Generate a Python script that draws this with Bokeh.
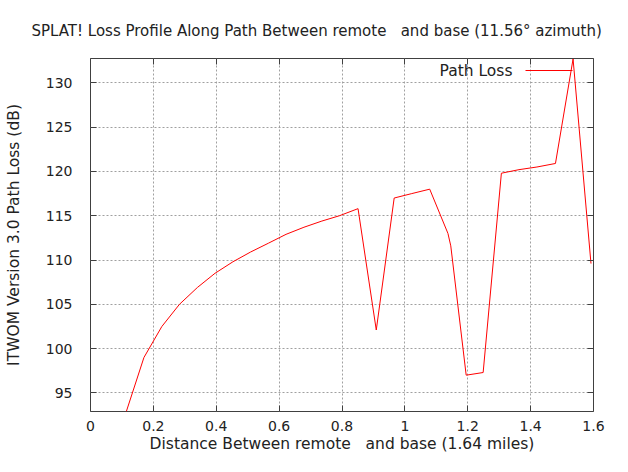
from bokeh.plotting import figure
from bokeh.models import Range1d, FixedTicker, LinearAxis, Label, Arrow
from bokeh.embed import file_html
from bokeh.resources import INLINE

# ---- data ----
distance_miles = [0.114, 0.170, 0.227, 0.283, 0.340, 0.396, 0.453, 0.509, 0.566,
                  0.622, 0.679, 0.736, 0.792, 0.851, 0.909, 0.966, 1.022, 1.079,
                  1.137, 1.146, 1.195, 1.249, 1.307, 1.363, 1.420, 1.479, 1.535, 1.592]
path_loss_db = [92.9, 99.0, 102.5, 105.0, 106.9, 108.5, 109.8, 110.9, 111.9,
                112.9, 113.7, 114.4, 115.0, 115.8, 102.1, 117.0, 117.5, 118.0,
                113.0, 111.6, 97.0, 97.3, 119.8, 120.2, 120.5, 120.9, 132.7, 109.6]

x_ticks = [0, 0.2, 0.4, 0.6, 0.8, 1.0, 1.2, 1.4, 1.6]
x_tick_labels = ["0", "0.2", "0.4", "0.6", "0.8", "1", "1.2", "1.4", "1.6"]
y_ticks = [95, 100, 105, 110, 115, 120, 125, 130]
y_tick_labels = ["95", "100", "105", "110", "115", "120", "125", "130"]

SP3 = "\u00a0\u00a0\u00a0"
title_text = "SPLAT! Loss Profile Along Path Between remote" + SP3 + "and base (11.56\u00b0 azimuth)"
x_label = "Distance Between remote" + SP3 + "and base (1.64 miles)"
y_label = "ITWOM Version 3.0 Path Loss (dB)"
series_name = "Path Loss"

FONT = "DejaVu Sans"
FS = "14px"      # tick labels
FS_T = "15.5px"  # longer texts (gnuplot spaces its letters wider)
TXT = "#222222"
FRAME_LINE = "#404040"

p = figure(width=612, height=456, output_backend="svg", toolbar_location=None,
           x_range=Range1d(0, 1.6), y_range=Range1d(92.9, 132.75),
           min_border_left=90, min_border_right=19, min_border_top=58, min_border_bottom=45)

p.title.text = title_text
p.title.text_font = FONT
p.title.text_font_size = "15px"
p.title.text_font_style = "normal"
p.title.text_color = TXT
p.title.align = "left"
p.title.offset = -59
p.title.standoff = 38

p.outline_line_color = FRAME_LINE
p.outline_line_width = 1
p.background_fill_color = "white"
p.border_fill_color = "white"

xt = FixedTicker(ticks=x_ticks)
yt = FixedTicker(ticks=y_ticks)

for ax in (p.xaxis[0], p.yaxis[0]):
    ax.axis_line_color = None
    ax.major_tick_in = 6
    ax.major_tick_out = 0
    ax.major_tick_line_color = FRAME_LINE
    ax.minor_tick_line_color = None
    ax.major_label_text_font = FONT
    ax.major_label_text_font_size = FS
    ax.major_label_text_color = TXT
    ax.axis_label_text_font = FONT
    ax.axis_label_text_font_size = FS_T
    ax.axis_label_text_font_style = "normal"
    ax.axis_label_text_color = TXT

p.xaxis[0].ticker = xt
p.yaxis[0].ticker = yt
p.xaxis[0].major_label_overrides = dict(zip(x_ticks, x_tick_labels))
p.yaxis[0].major_label_overrides = dict(zip(y_ticks, y_tick_labels))
p.xaxis[0].axis_label = x_label
p.yaxis[0].axis_label = y_label
p.xaxis[0].major_label_standoff = 9
p.yaxis[0].major_label_standoff = 18
p.xaxis[0].axis_label_standoff = 1
p.yaxis[0].axis_label_standoff = 20

# mirrored ticks on top and right (gnuplot style)
for side, tk in (("above", xt), ("right", yt)):
    ax = LinearAxis(ticker=tk)
    ax.axis_line_color = None
    ax.major_tick_in = 6
    ax.major_tick_out = 0
    ax.major_tick_line_color = FRAME_LINE
    ax.minor_tick_line_color = None
    ax.major_label_standoff = 0
    ax.major_label_text_font_size = "0px"
    ax.major_label_text_color = None
    p.add_layout(ax, side)

p.xgrid.ticker = xt
p.ygrid.ticker = yt
for g in (p.xgrid[0], p.ygrid[0]):
    g.grid_line_color = "#a0a0a0"
    g.grid_line_dash = "2 2"
    g.grid_line_width = 1

line = p.line(distance_miles, path_loss_db, line_color="#ff0000", line_width=1)

# gnuplot-style key: text then sample line
p.add_layout(Label(x=422, y=341, x_units="screen", y_units="screen", text=series_name,
                   text_align="right", text_baseline="middle", text_font=FONT,
                   text_font_size=FS_T, text_color=TXT))
p.add_layout(Arrow(x_start=435, y_start=341, x_end=482, y_end=341,
                   start_units="screen", end_units="screen", end=None,
                   line_color="#ff0000", line_width=1))

open("out.html", "w").write(file_html(p, INLINE))
